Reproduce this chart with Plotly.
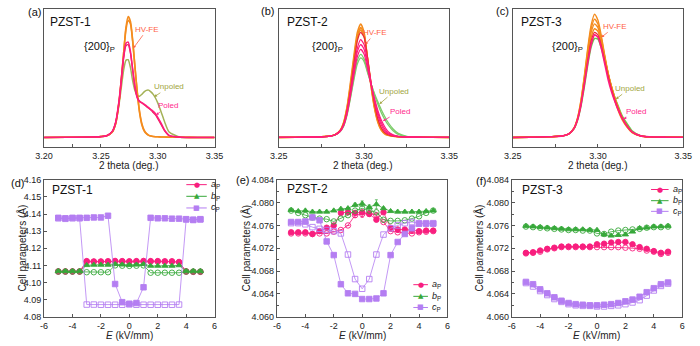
import plotly.graph_objects as go

W, H = 700, 346
FONT = "Liberation Sans, Arial, Helvetica, sans-serif"

# ---------------- data: XRD {200} peaks ----------------
two_theta_a = [3.200, 3.220, 3.240, 3.250, 3.255, 3.260, 3.263, 3.266, 3.268, 3.270,
               3.272, 3.274, 3.276, 3.278, 3.280, 3.282, 3.284, 3.286, 3.288, 3.290,
               3.292, 3.294, 3.296, 3.298, 3.300, 3.303, 3.306, 3.310, 3.320, 3.335, 3.350]
a_unpoled = [0.005, 0.006, 0.008, 0.012, 0.018, 0.05, 0.12, 0.28, 0.42, 0.56,
             0.64, 0.645, 0.58, 0.47, 0.39, 0.35, 0.345, 0.36, 0.38, 0.393,
             0.395, 0.38, 0.36, 0.33, 0.29, 0.215, 0.135, 0.05, 0.007, 0.005, 0.005]
a_hvfe_1 = [0.005, 0.006, 0.008, 0.012, 0.018, 0.05, 0.12, 0.30, 0.48, 0.70,
            0.91, 1.00, 0.96, 0.80, 0.58, 0.37, 0.21, 0.11, 0.06, 0.035,
            0.022, 0.016, 0.013, 0.011, 0.010, 0.009, 0.008, 0.007, 0.006, 0.005, 0.005]
a_hvfe_2 = [0.005, 0.006, 0.008, 0.012, 0.018, 0.05, 0.12, 0.30, 0.49, 0.70,
            0.89, 0.97, 0.94, 0.79, 0.58, 0.38, 0.22, 0.12, 0.065, 0.038,
            0.024, 0.017, 0.013, 0.011, 0.010, 0.009, 0.008, 0.007, 0.006, 0.005, 0.005]
a_poled_1 = [0.005, 0.006, 0.008, 0.012, 0.018, 0.055, 0.13, 0.31, 0.49, 0.67,
             0.78, 0.79, 0.71, 0.56, 0.42, 0.33, 0.30, 0.29, 0.28, 0.265,
             0.25, 0.235, 0.22, 0.20, 0.17, 0.12, 0.065, 0.022, 0.007, 0.005, 0.005]
a_poled_2 = [0.005, 0.006, 0.008, 0.012, 0.018, 0.054, 0.13, 0.30, 0.48, 0.66,
             0.76, 0.77, 0.70, 0.56, 0.42, 0.335, 0.305, 0.29, 0.275, 0.26,
             0.245, 0.23, 0.21, 0.19, 0.16, 0.11, 0.06, 0.02, 0.007, 0.005, 0.005]

two_theta_bc = [3.250, 3.260, 3.270, 3.275, 3.280, 3.283, 3.286, 3.288, 3.290, 3.292,
                3.294, 3.296, 3.298, 3.300, 3.302, 3.304, 3.306, 3.308, 3.310, 3.312,
                3.314, 3.317, 3.320, 3.325, 3.330, 3.340, 3.350]
b_unpoled_1 = [0.005, 0.006, 0.008, 0.010, 0.016, 0.026, 0.055, 0.10, 0.20, 0.34,
               0.50, 0.64, 0.69, 0.65, 0.55, 0.45, 0.36, 0.28, 0.21, 0.155,
               0.11, 0.06, 0.03, 0.012, 0.008, 0.006, 0.005]
b_unpoled_2 = [0.005, 0.006, 0.008, 0.010, 0.016, 0.026, 0.054, 0.10, 0.19, 0.33,
               0.48, 0.61, 0.66, 0.63, 0.54, 0.45, 0.37, 0.30, 0.235, 0.18,
               0.13, 0.075, 0.038, 0.014, 0.008, 0.006, 0.005]
b_hvfe_1 = [0.005, 0.006, 0.008, 0.010, 0.016, 0.028, 0.065, 0.13, 0.26, 0.46,
            0.68, 0.87, 0.94, 0.87, 0.65, 0.43, 0.25, 0.13, 0.065, 0.035,
            0.022, 0.014, 0.010, 0.008, 0.007, 0.006, 0.005]
b_hvfe_2 = [0.005, 0.006, 0.008, 0.010, 0.016, 0.028, 0.063, 0.125, 0.25, 0.44,
            0.65, 0.84, 0.91, 0.85, 0.65, 0.44, 0.26, 0.14, 0.07, 0.038,
            0.024, 0.015, 0.010, 0.008, 0.007, 0.006, 0.005]
b_hvfe_3 = [0.005, 0.006, 0.008, 0.010, 0.016, 0.028, 0.062, 0.12, 0.24, 0.42,
            0.63, 0.82, 0.89, 0.84, 0.66, 0.45, 0.27, 0.15, 0.08, 0.042,
            0.026, 0.016, 0.011, 0.008, 0.007, 0.006, 0.005]
b_red = [0.005, 0.006, 0.008, 0.010, 0.016, 0.027, 0.06, 0.115, 0.23, 0.40,
         0.61, 0.80, 0.87, 0.83, 0.66, 0.46, 0.29, 0.16, 0.085, 0.045,
         0.027, 0.016, 0.011, 0.008, 0.007, 0.006, 0.005]
b_pink_1 = [0.005, 0.006, 0.008, 0.010, 0.016, 0.027, 0.058, 0.11, 0.22, 0.38,
            0.57, 0.74, 0.81, 0.77, 0.63, 0.46, 0.31, 0.19, 0.11, 0.06,
            0.035, 0.019, 0.012, 0.008, 0.007, 0.006, 0.005]
b_pink_2 = [0.005, 0.006, 0.008, 0.010, 0.016, 0.027, 0.057, 0.108, 0.21, 0.37,
            0.55, 0.71, 0.77, 0.73, 0.60, 0.45, 0.32, 0.21, 0.13, 0.075,
            0.043, 0.022, 0.013, 0.008, 0.007, 0.006, 0.005]
b_poled = [0.005, 0.006, 0.008, 0.010, 0.016, 0.027, 0.056, 0.105, 0.20, 0.35,
           0.52, 0.67, 0.73, 0.69, 0.57, 0.44, 0.33, 0.23, 0.15, 0.095,
           0.055, 0.027, 0.015, 0.009, 0.007, 0.006, 0.005]

c_unpoled = [0.005, 0.007, 0.010, 0.013, 0.02, 0.034, 0.078, 0.145, 0.26, 0.42,
             0.60, 0.75, 0.82, 0.815, 0.74, 0.63, 0.52, 0.42, 0.33, 0.26,
             0.19, 0.12, 0.06, 0.02, 0.010, 0.007, 0.006]
c_hvfe_1 = [0.005, 0.007, 0.010, 0.013, 0.02, 0.035, 0.085, 0.165, 0.31, 0.51,
            0.74, 0.93, 1.02, 0.97, 0.84, 0.68, 0.53, 0.40, 0.30, 0.22,
            0.155, 0.09, 0.045, 0.016, 0.009, 0.007, 0.006]
c_hvfe_2 = [0.005, 0.007, 0.010, 0.013, 0.02, 0.035, 0.083, 0.16, 0.30, 0.50,
            0.72, 0.90, 0.98, 0.94, 0.82, 0.67, 0.53, 0.41, 0.31, 0.23,
            0.165, 0.095, 0.048, 0.017, 0.009, 0.007, 0.006]
c_hvfe_3 = [0.005, 0.007, 0.010, 0.013, 0.02, 0.035, 0.082, 0.158, 0.29, 0.48,
            0.69, 0.87, 0.94, 0.91, 0.80, 0.66, 0.53, 0.42, 0.32, 0.24,
            0.17, 0.10, 0.05, 0.018, 0.009, 0.007, 0.006]
c_hvfe_4 = [0.005, 0.007, 0.010, 0.013, 0.02, 0.035, 0.08, 0.155, 0.28, 0.46,
            0.66, 0.83, 0.90, 0.88, 0.78, 0.65, 0.53, 0.42, 0.33, 0.25,
            0.18, 0.105, 0.052, 0.018, 0.009, 0.007, 0.006]
c_red = [0.005, 0.007, 0.010, 0.013, 0.02, 0.035, 0.08, 0.152, 0.275, 0.45,
         0.64, 0.80, 0.87, 0.85, 0.76, 0.63, 0.51, 0.40, 0.31, 0.235,
         0.17, 0.10, 0.05, 0.018, 0.009, 0.007, 0.006]
c_poled = [0.005, 0.007, 0.010, 0.013, 0.02, 0.035, 0.08, 0.15, 0.27, 0.44,
           0.62, 0.77, 0.85, 0.83, 0.74, 0.61, 0.48, 0.38, 0.30, 0.23,
           0.17, 0.10, 0.05, 0.018, 0.010, 0.007, 0.006]

# ---------------- data: cell parameters vs E ----------------
E_field = [-5, -4.5, -4, -3.5, -3, -2.5, -2, -1.5, -1, -0.5, 0,
           0.5, 1, 1.5, 2, 2.5, 3, 3.5, 4, 4.5, 5]

d_ap_1 = [4.1065, 4.1065, 4.1065, 4.1065, 4.1125, 4.1123, 4.1123, 4.1124, 4.1126, 4.1125, 4.1124,
          4.1125, 4.1126, 4.1125, 4.1125, 4.1124, 4.1124, 4.1120, 4.1065, 4.1063, 4.1063]
d_ap_2 = [4.1063, 4.1063, 4.1063, 4.1063, 4.1121, 4.1121, 4.1121, 4.1122, 4.1123, 4.1122, 4.1121,
          4.1122, 4.1123, 4.1122, 4.1122, 4.1121, 4.1121, 4.1118, 4.1063, 4.1062, 4.1062]
d_bp_1 = [4.1066, 4.1066, 4.1066, 4.1066, 4.1101, 4.1103, 4.1103, 4.1103, 4.1107, 4.1104, 4.1102,
          4.1104, 4.1107, 4.1097, 4.1097, 4.1097, 4.1097, 4.1100, 4.1066, 4.1066, 4.1066]
d_bp_2 = [4.1064, 4.1064, 4.1064, 4.1064, 4.1060, 4.1060, 4.1060, 4.1060, 4.1100, 4.1098, 4.1097,
          4.1098, 4.1100, 4.1057, 4.1057, 4.1057, 4.1057, 4.1057, 4.1064, 4.1064, 4.1064]
d_cp_1 = [4.1378, 4.1375, 4.1378, 4.1378, 4.1378, 4.1380, 4.1380, 4.1390, 4.0991, 4.0885, 4.0876,
          4.0880, 4.0972, 4.1378, 4.1375, 4.1375, 4.1373, 4.1373, 4.1370, 4.1367, 4.1370]
d_cp_2 = [4.1375, 4.1372, 4.1375, 4.1375, 4.0871, 4.0871, 4.0870, 4.0870, 4.0870, 4.0870, 4.0872,
          4.0870, 4.0870, 4.0870, 4.0870, 4.0870, 4.0870, 4.0871, 4.1368, 4.1365, 4.1368]

e_ap_1 = [4.0748, 4.0748, 4.0748, 4.0745, 4.0750, 4.0756, 4.0760, 4.0782, 4.0783, 4.0782, 4.0783,
          4.0780, 4.0770, 4.0783, 4.0756, 4.0753, 4.0753, 4.0752, 4.0750, 4.0751, 4.0751]
e_ap_2 = [4.0746, 4.0746, 4.0746, 4.0745, 4.0746, 4.0746, 4.0749, 4.0752, 4.0760, 4.0778, 4.0780,
          4.0781, 4.0778, 4.0766, 4.0750, 4.0748, 4.0747, 4.0746, 4.0748, 4.0749, 4.0750]
e_ap_2_err = [0, 0, 0, 0, 0, 0, 0, 0, 0, 0.0004, 0.0006,
              0.0005, 0.0003, 0, 0, 0, 0, 0, 0, 0, 0]
e_bp_1 = [4.0787, 4.0785, 4.0786, 4.0784, 4.0784, 4.0784, 4.0786, 4.0789, 4.0790, 4.0796, 4.0798,
          4.0792, 4.0797, 4.0790, 4.0785, 4.0784, 4.0784, 4.0784, 4.0784, 4.0785, 4.0786]
e_bp_1_err = [0, 0, 0, 0, 0, 0, 0, 0, 0, 0.0003, 0.0005,
              0.0004, 0.0008, 0, 0, 0, 0, 0, 0, 0, 0]
e_bp_2 = [4.0786, 4.0782, 4.0778, 4.0774, 4.0772, 4.0771, 4.0767, 4.0772, 4.0778, 4.0786, 4.0790,
          4.0786, 4.0783, 4.0770, 4.0768, 4.0768, 4.0769, 4.0772, 4.0776, 4.0782, 4.0786]
e_cp_1 = [4.0766, 4.0766, 4.0767, 4.0774, 4.0769, 4.0732, 4.0708, 4.0657, 4.0641, 4.0640, 4.0631,
          4.0631, 4.0632, 4.0641, 4.0708, 4.0731, 4.0745, 4.0755, 4.0763, 4.0763, 4.0763]
e_cp_2 = [4.0764, 4.0764, 4.0762, 4.0757, 4.0754, 4.0752, 4.0750, 4.0746, 4.0709, 4.0666, 4.0649,
          4.0666, 4.0709, 4.0744, 4.0755, 4.0760, 4.0764, 4.0766, 4.0764, 4.0764, 4.0764]

f_ap_1 = [4.0712, 4.0713, 4.0716, 4.0719, 4.0721, 4.0723, 4.0723, 4.0723, 4.0723, 4.0723, 4.0727,
          4.0728, 4.0730, 4.0731, 4.0731, 4.0727, 4.0722, 4.0719, 4.0715, 4.0712, 4.0714]
f_ap_2 = [4.0711, 4.0712, 4.0714, 4.0718, 4.0720, 4.0722, 4.0722, 4.0722, 4.0722, 4.0722, 4.0722,
          4.0722, 4.0722, 4.0722, 4.0721, 4.0720, 4.0719, 4.0716, 4.0714, 4.0710, 4.0712]
f_bp_1 = [4.0759, 4.0758, 4.0757, 4.0756, 4.0755, 4.0754, 4.0753, 4.0753, 4.0753, 4.0752, 4.0752,
          4.0744, 4.0742, 4.0743, 4.0744, 4.0749, 4.0755, 4.0756, 4.0758, 4.0758, 4.0759]
f_bp_2 = [4.0758, 4.0757, 4.0756, 4.0755, 4.0754, 4.0753, 4.0752, 4.0752, 4.0751, 4.0751, 4.0746,
          4.0745, 4.0749, 4.0751, 4.0752, 4.0753, 4.0754, 4.0756, 4.0757, 4.0757, 4.0758]
f_cp_1 = [4.0661, 4.0657, 4.0648, 4.0641, 4.0634, 4.0628, 4.0624, 4.0622, 4.0621, 4.0620, 4.0620,
          4.0621, 4.0622, 4.0624, 4.0627, 4.0630, 4.0635, 4.0643, 4.0650, 4.0657, 4.0660]
f_cp_2 = [4.0659, 4.0653, 4.0645, 4.0638, 4.0631, 4.0626, 4.0622, 4.0620, 4.0619, 4.0619, 4.0618,
          4.0618, 4.0619, 4.0620, 4.0622, 4.0625, 4.0629, 4.0637, 4.0646, 4.0654, 4.0658]

# ---------------- tick labels ----------------
tt_a_vals = [3.20, 3.25, 3.30, 3.35]
tt_a_text = ["3.20", "3.25", "3.30", "3.35"]
tt_bc_vals = [3.25, 3.30, 3.35]
tt_bc_text = ["3.25", "3.30", "3.35"]
E_tick_vals = [-6, -4, -2, 0, 2, 4, 6]
E_tick_text = ["-6", "-4", "-2", "0", "2", "4", "6"]
d_y_vals = [4.08, 4.09, 4.10, 4.11, 4.12, 4.13, 4.14, 4.15, 4.16]
d_y_text = ["4.08", "4.09", "4.10", "4.11", "4.12", "4.13", "4.14", "4.15", "4.16"]
ef_y_vals = [4.060, 4.064, 4.068, 4.072, 4.076, 4.080, 4.084]
ef_y_text = ["4.060", "4.064", "4.068", "4.072", "4.076", "4.080", "4.084"]

# ---------------- styles ----------------
ORANGE = "#f48c1e"
RED = "#ea2a3a"
PINK_T = "#ff1c7c"
OLIVE = "#a4b257"
GREEN_B = "#7ccc6a"
GREEN_C = "#68c84e"
HV_TXT = "#ff5f45"
UNP_TXT = "#a2a640"
POL_TXT = "#ff2a8c"
PINK = "#f81e7e"
GREEN = "#37a83a"
PURPLE = "#b47ef2"
FRAME = "#555555"

fig = go.Figure()


def curve(x, y, color, width, xa, ya):
    fig.add_trace(go.Scatter(x=x, y=y, mode="lines", xaxis=xa, yaxis=ya,
                             line=dict(color=color, width=width, shape="spline", smoothing=0.6),
                             hoverinfo="skip", showlegend=False))


# (a)
curve(two_theta_a, a_unpoled, OLIVE, 1.5, "x", "y")
curve(two_theta_a, a_hvfe_2, ORANGE, 1.6, "x", "y")
curve(two_theta_a, a_hvfe_1, ORANGE, 1.6, "x", "y")
curve(two_theta_a, a_poled_2, "#e8245a", 1.3, "x", "y")
curve(two_theta_a, a_poled_1, PINK_T, 1.6, "x", "y")
# (b)
for yy in (b_unpoled_1, b_unpoled_2):
    curve(two_theta_bc, yy, GREEN_B, 1.3, "x2", "y2")
for yy in (b_hvfe_3, b_hvfe_2, b_hvfe_1):
    curve(two_theta_bc, yy, ORANGE, 1.5, "x2", "y2")
curve(two_theta_bc, b_red, RED, 1.3, "x2", "y2")
for yy in (b_pink_1, b_pink_2, b_poled):
    curve(two_theta_bc, yy, PINK_T, 1.2, "x2", "y2")
# (c)
curve(two_theta_bc, c_unpoled, GREEN_C, 1.5, "x3", "y3")
for yy in (c_hvfe_4, c_hvfe_3, c_hvfe_2, c_hvfe_1):
    curve(two_theta_bc, yy, ORANGE, 1.4, "x3", "y3")
curve(two_theta_bc, c_red, RED, 1.2, "x3", "y3")
curve(two_theta_bc, c_poled, PINK_T, 1.6, "x3", "y3")


def series(y, color, symbol, xa, ya, err=None):
    kw = {}
    if err is not None:
        kw["error_y"] = dict(type="data", array=err, visible=True, color=color,
                             thickness=0.7, width=1.5)
    fig.add_trace(go.Scatter(x=E_field, y=y, mode="lines+markers", xaxis=xa, yaxis=ya,
                             line=dict(color=color, width=0.8),
                             marker=dict(symbol=symbol, size=5.5, color=color,
                                         line=dict(color=color, width=0.9)),
                             hoverinfo="skip", showlegend=False, **kw))


# (d)
series(d_ap_2, PINK, "circle-open", "x4", "y4")
series(d_ap_1, PINK, "circle", "x4", "y4")
series(d_bp_2, GREEN, "circle-open", "x4", "y4")
series(d_bp_1, GREEN, "triangle-up", "x4", "y4")
series(d_cp_2, PURPLE, "square-open", "x4", "y4")
series(d_cp_1, PURPLE, "square", "x4", "y4")
# (e)
series(e_ap_2, PINK, "circle-open", "x5", "y5", e_ap_2_err)
series(e_ap_1, PINK, "circle", "x5", "y5")
series(e_bp_2, GREEN, "circle-open", "x5", "y5")
series(e_bp_1, GREEN, "triangle-up", "x5", "y5", e_bp_1_err)
series(e_cp_2, PURPLE, "square-open", "x5", "y5")
series(e_cp_1, PURPLE, "square", "x5", "y5")
# (f)
series(f_ap_2, PINK, "circle-open", "x6", "y6")
series(f_ap_1, PINK, "circle", "x6", "y6")
series(f_bp_2, GREEN, "circle-open", "x6", "y6")
series(f_bp_1, GREEN, "triangle-up", "x6", "y6")
series(f_cp_2, PURPLE, "square-open", "x6", "y6")
series(f_cp_1, PURPLE, "square", "x6", "y6")


def px_dom(a, b, total):
    return [a / total, b / total]


def ydom(top, bottom):
    return [1 - bottom / H, 1 - top / H]


tick_font = dict(family=FONT, size=9, color="#222")
common_ax = dict(showline=True, mirror=True, linecolor=FRAME, linewidth=1,
                 showgrid=False, zeroline=False, ticks="inside", tickcolor=FRAME,
                 ticklen=3, tickfont=tick_font)

layout = dict(width=W, height=H, margin=dict(l=0, r=0, t=0, b=0),
              plot_bgcolor="white", paper_bgcolor="white", showlegend=False)

top_y = ydom(4, 146)
bot_y = ydom(180, 321)
xd = [px_dom(36, 211, W), px_dom(277, 452, W), px_dom(517, 692, W)]
xd_b = [px_dom(36, 211, W), px_dom(275, 450, W), px_dom(516, 691, W)]

for i in range(3):
    n = "" if i == 0 else str(i + 1)
    vals, text, rng = (tt_a_vals, tt_a_text, [3.20, 3.35]) if i == 0 else (tt_bc_vals, tt_bc_text, [3.25, 3.35])
    layout["xaxis" + n] = dict(common_ax, domain=xd[i], range=rng, anchor="y" + n,
                               tickmode="array", tickvals=vals, ticktext=text,
                               minor=dict(ticks="inside", ticklen=3, dtick=0.025, tick0=3.2,
                                          tickcolor=FRAME))
    layout["yaxis" + n] = dict(showline=True, mirror=True, linecolor=FRAME, linewidth=1,
                               showgrid=False, zeroline=False, showticklabels=False,
                               ticks="", domain=top_y, range=[-0.072, 1.064],
                               anchor="x" + n)

for i in range(3):
    n = str(i + 4)
    layout["xaxis" + n] = dict(common_ax, domain=xd_b[i], range=[-6, 6], anchor="y" + n,
                               tickmode="array", tickvals=E_tick_vals, ticktext=E_tick_text)
    if i == 0:
        ya = dict(common_ax, domain=bot_y, range=[4.08, 4.16], anchor="x" + n,
                  tickmode="array", tickvals=d_y_vals, ticktext=d_y_text)
    else:
        ya = dict(common_ax, domain=bot_y, range=[4.060, 4.084], anchor="x" + n,
                  tickmode="array", tickvals=ef_y_vals, ticktext=ef_y_text,
                  minor=dict(ticks="inside", ticklen=2, dtick=0.002, tick0=4.06,
                             tickcolor=FRAME))
    layout["yaxis" + n] = ya

fig.update_layout(**layout)

ann = []
shapes = []


def txt(x, y, s, size, color="#111", xanchor="center", angle=0, family=FONT):
    ann.append(dict(x=x / W, y=1 - y / H, xref="paper", yref="paper", text=s,
                    showarrow=False, xanchor=xanchor, yanchor="middle", textangle=angle,
                    font=dict(family=family, size=size, color=color)))


# panel letters
for s, x, y in [("(a)", 26, 7), ("(b)", 265, 6), ("(c)", 507, 6),
                ("(d)", 9, 183), ("(e)", 240, 180), ("(f)", 484, 181)]:
    txt(x, y, s, 11)
# sample names
for s, x, y in [("PZST-1", 40, 17), ("PZST-2", 283, 17), ("PZST-3", 523, 17),
                ("PZST-1", 42, 191), ("PZST-2", 283, 189), ("PZST-3", 524, 190)]:
    txt(x, y, s, 12, xanchor="left")
# {200}P
for x in (93, 327, 573):
    txt(x, 43, "{200}<sub>P</sub>", 11)
# axis titles
for x in (123, 363, 604):
    txt(x, 165, "2 theta (deg.)", 10, color="#222")
for x in (124, 363, 603):
    txt(x, 340, "<i>E</i> (kV/mm)", 10, color="#222")
for x in (13, 243, 482):
    txt(x, 250, "Cell parameters (Å)", 10, color="#222", angle=-90)


def arrow_label(xa, ya, x, y, s, color, ax, ay):
    ann.append(dict(x=x, y=y, xref=xa, yref=ya, text=s, showarrow=True,
                    ax=ax, ay=ay, arrowhead=2, arrowsize=0.7, arrowwidth=0.8,
                    arrowcolor=color, standoff=0, startstandoff=0,
                    font=dict(family=FONT, size=8, color=color)))


arrow_label("x", "y", 3.2785, 0.74, "HV-FE", HV_TXT, 14, -19)
arrow_label("x", "y", 3.297, 0.34, "Unpoled", UNP_TXT, 15, -10)
arrow_label("x", "y", 3.2985, 0.19, "Poled", POL_TXT, 12, -9)
arrow_label("x2", "y2", 3.3007, 0.77, "HV-FE", HV_TXT, 10, -12)
arrow_label("x2", "y2", 3.309, 0.28, "Unpoled", UNP_TXT, 15, -13)
arrow_label("x2", "y2", 3.311, 0.14, "Poled", POL_TXT, 17, -10)
arrow_label("x3", "y3", 3.302, 0.83, "HV-FE", HV_TXT, 14, -11)
arrow_label("x3", "y3", 3.3105, 0.32, "Unpoled", UNP_TXT, 14, -11)
arrow_label("x3", "y3", 3.315, 0.155, "Poled", POL_TXT, 12, -8)

# manual compact legends
legend_names = ["<i>a</i><sub>P</sub>", "<i>b</i><sub>P</sub>", "<i>c</i><sub>P</sub>"]
legend_cols = [PINK, GREEN, PURPLE]
legend_glyphs = ["●", "▲", "■"]
for (x0, x1, xt, ys) in [(182, 203, 205, [185, 197, 209]),
                         (415, 430, 432, [288, 300, 311.5]),
                         (659, 677, 679, [190, 201.5, 212.5])]:
    for name, col, gl, y in zip(legend_names, legend_cols, legend_glyphs, ys):
        shapes.append(dict(type="line", xref="paper", yref="paper",
                           x0=x0 / W, x1=x1 / W, y0=1 - y / H, y1=1 - y / H,
                           line=dict(color=col, width=1)))
        txt((x0 + x1) / 2, y, gl, 7, color=col, family="DejaVu Sans")
        txt(xt, y, name, 9, color="#222", xanchor="left")

fig.update_layout(annotations=ann, shapes=shapes)

fig.write_html("out.html", config={"displayModeBar": False},
               post_script="document.body.style.margin='0px';")
